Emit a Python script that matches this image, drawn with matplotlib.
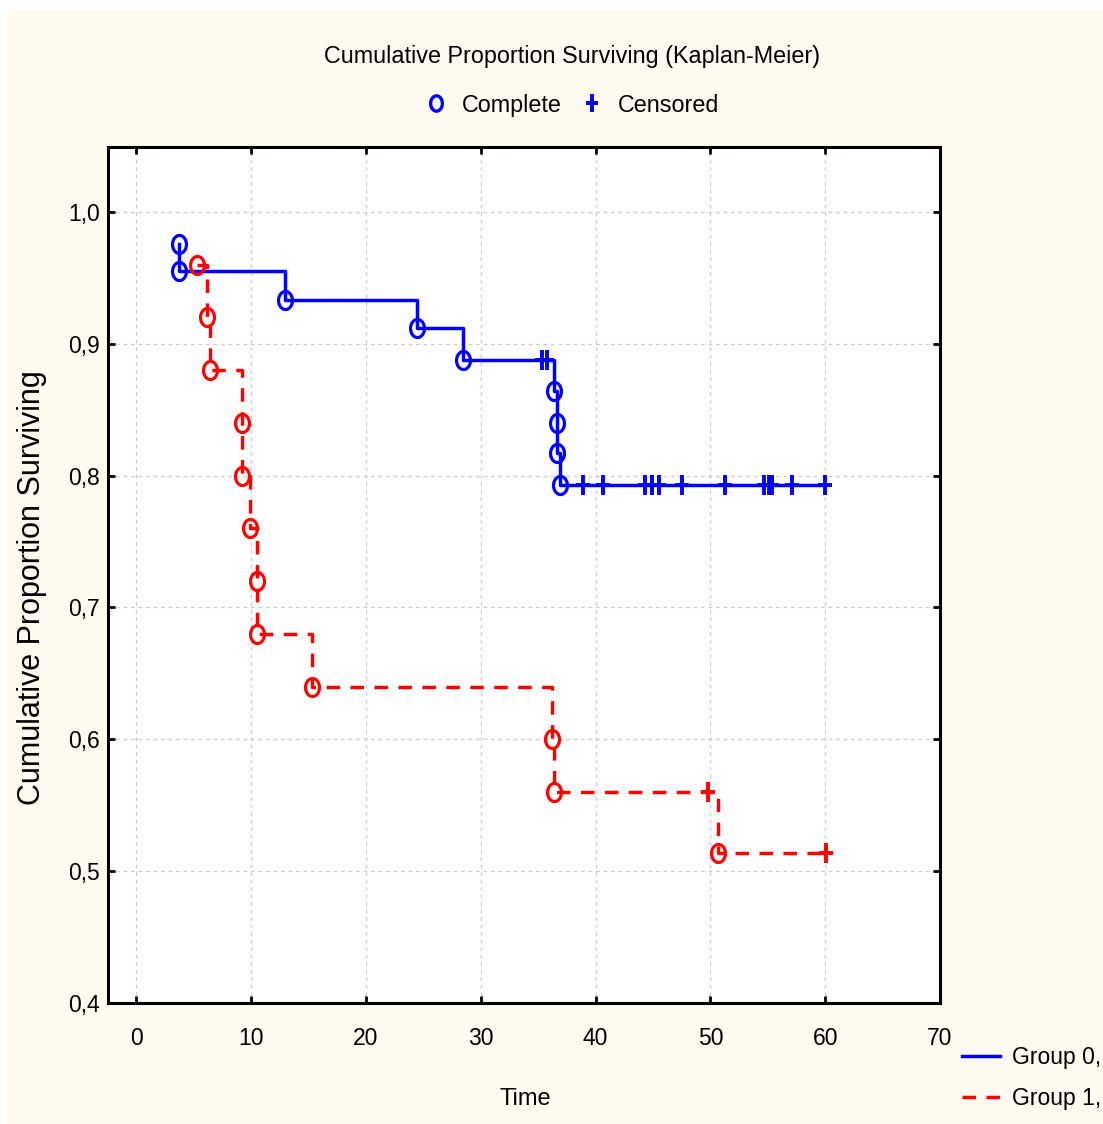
"""Kaplan-Meier cumulative proportion surviving, two groups."""

import matplotlib

matplotlib.use("Agg")

import matplotlib.pyplot as plt
import numpy as np
from matplotlib.lines import Line2D
from matplotlib.patches import Rectangle
from matplotlib.path import Path

plt.rcParams["font.family"] = ["Liberation Sans", "DejaVu Sans"]

# Group 0 (solid blue): time, survival, censored flag
g0_time = [3.7, 3.7, 12.94, 24.41, 28.41, 35.3, 35.73, 36.4, 36.66, 36.66, 36.9,
           38.9, 40.6, 44.3, 44.9, 45.5, 47.5, 51.3, 54.7, 55.1, 55.4, 57.1, 60.0]
g0_surv = [0.976, 0.955, 0.933, 0.912, 0.888, 0.888, 0.888, 0.864, 0.840, 0.817, 0.793,
           0.793, 0.793, 0.793, 0.793, 0.793, 0.793, 0.793, 0.793, 0.793, 0.793, 0.793, 0.793]
g0_cens = [0, 0, 0, 0, 0, 1, 1, 0, 0, 0, 0,
           1, 1, 1, 1, 1, 1, 1, 1, 1, 1, 1, 1]

# Group 1 (dashed red)
g1_time = [5.24, 6.17, 6.40, 9.16, 9.16, 9.89, 10.47, 10.47, 15.26, 36.17, 36.37,
           49.8, 50.69, 60.07]
g1_surv = [0.96, 0.92, 0.88, 0.84, 0.80, 0.76, 0.72, 0.68, 0.64, 0.60, 0.56,
           0.56, 0.514, 0.514]
g1_cens = [0, 0, 0, 0, 0, 0, 0, 0, 0, 0, 0, 1, 0, 1]

x_ticks = [0, 10, 20, 30, 40, 50, 60, 70]
y_ticks = [0.4, 0.5, 0.6, 0.7, 0.8, 0.9, 1.0]

# markers are a bit taller than wide in the original
t = np.linspace(0, 2 * np.pi, 60)
ellipse = Path(np.column_stack([0.77 * np.cos(t), np.sin(t)]), closed=True)
plus = Path([(-0.7, 0), (0.7, 0), (0, -1), (0, 1)],
            [Path.MOVETO, Path.LINETO, Path.MOVETO, Path.LINETO])

W, H = 1103, 1124
fig = plt.figure(figsize=(W / 100, H / 100), dpi=100)
fig.patch.set_facecolor("white")
fig.add_artist(Rectangle((7 / W, 0), 1 - 7 / W, 1 - 10 / H, transform=fig.transFigure,
                         facecolor="#fefaef", edgecolor="none", zorder=-10))

ax = fig.add_axes([108 / W, 1 - 1003 / H, 832 / W, 856 / H])
ax.set_facecolor("white")
ax.set_xlim(-2.48, 70)
ax.set_ylim(0.4, 1.0493)

for spine in ax.spines.values():
    spine.set_linewidth(2.2)
ax.set_xticks(x_ticks)
ax.set_yticks(y_ticks)
ax.set_yticklabels([f"{v:.1f}".replace(".", ",") for v in y_ticks])
ax.tick_params(direction="in", length=5, width=2, top=True, right=True,
               labelsize=16.5)
ax.tick_params(axis="x", pad=17)
ax.tick_params(axis="y", pad=6)
ax.grid(True, color="#cccccc", linestyle=(0, (3, 3)), linewidth=0.9)
ax.set_axisbelow(True)

lw = 2.5
dash = (0, (3.9, 3.0))
series = [
    (g0_time, g0_surv, g0_cens, "#0000ff", "-"),
    (g1_time, g1_surv, g1_cens, "#ff0000", dash),
]
for times, surv, cens, color, ls in series:
    times = np.array(times)
    surv = np.array(surv)
    cens = np.array(cens, dtype=bool)
    ax.plot(times, surv, drawstyle="steps-post", color=color, linestyle=ls,
            linewidth=lw, zorder=3)
    ax.plot(times[~cens], surv[~cens], linestyle="none", marker=ellipse,
            markersize=13, markerfacecolor="none", markeredgecolor=color,
            markeredgewidth=2.3, zorder=4)
    ax.plot(times[cens], surv[cens], linestyle="none", marker=plus,
            markersize=15, markeredgecolor=color, markeredgewidth=2.8, zorder=4)

fig.text(572 / W, 1 - 56 / H, "Cumulative Proportion Surviving (Kaplan-Meier)",
         ha="center", va="center", fontsize=16.8)
fig.text(32 / W, 1 - 588 / H, "Cumulative Proportion Surviving",
         rotation=90, ha="center", va="center", fontsize=22)
fig.text(525 / W, 1 - 1099 / H, "Time", ha="center", va="center", fontsize=17)

top_handles = [
    Line2D([], [], linestyle="none", marker=ellipse, markersize=11,
           markerfacecolor="none", markeredgecolor="#0000ff", markeredgewidth=2.4),
    Line2D([], [], linestyle="none", marker=plus, markersize=13,
           markeredgecolor="#0000ff", markeredgewidth=2.8),
]
fig.legend(top_handles, ["Complete", "Censored"], loc="center",
           bbox_to_anchor=(572 / W, 1 - 105 / H), ncol=2, frameon=False,
           fontsize=16.8, handlelength=1.0, handletextpad=0.6, columnspacing=0.8)

group_handles = [
    Line2D([], [], color="#0000ff", linewidth=lw),
    Line2D([], [], color="#ff0000", linewidth=lw, linestyle=dash),
]
fig.legend(group_handles, ["Group 0,", "Group 1,"], loc="center left",
           bbox_to_anchor=(962 / W, 1 - 1078 / H), frameon=False, fontsize=16.5,
           handlelength=1.66, handletextpad=0.52, labelspacing=0.75,
           borderaxespad=0, borderpad=0)

fig.savefig("out.png", dpi=100, facecolor=fig.get_facecolor())
